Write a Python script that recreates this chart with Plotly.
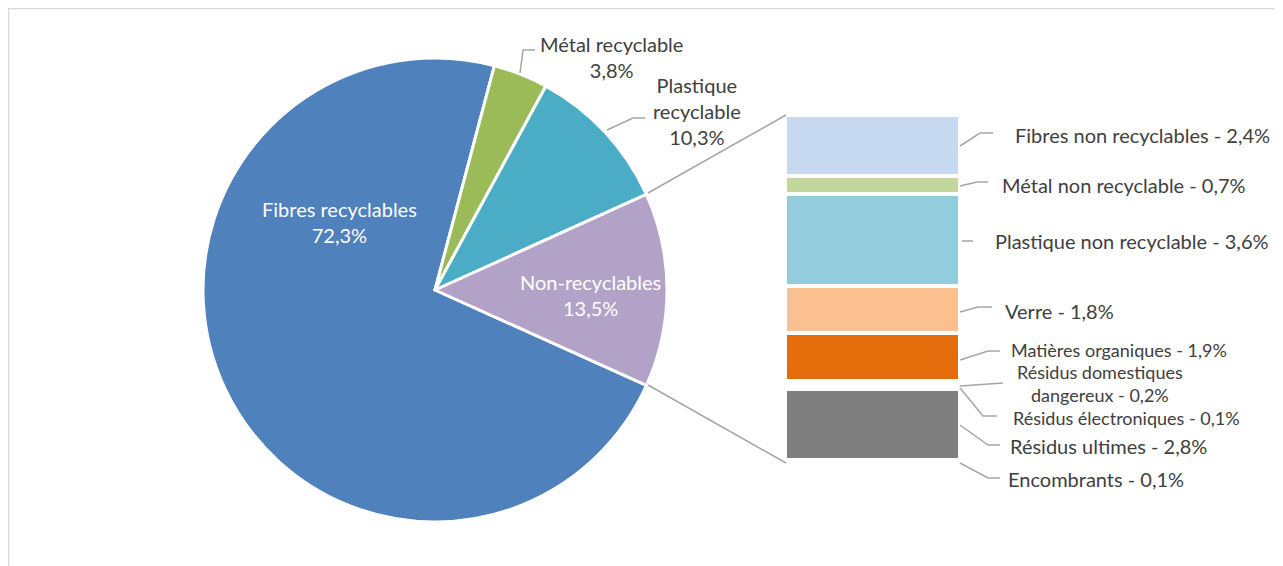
import plotly.graph_objects as go

# ---------------- data ----------------
pie_labels = ["Fibres recyclables", "Métal recyclable", "Plastique recyclable", "Non-recyclables"]
pie_values = [72.3, 3.8, 10.3, 13.5]
pie_colors = ["#4F81BD", "#9BBB59", "#4BACC6", "#B2A2C7"]

bar_labels = ["Fibres non recyclables", "Métal non recyclable", "Plastique non recyclable",
              "Verre", "Matières organiques", "Résidus domestiques dangereux",
              "Résidus électroniques", "Résidus ultimes", "Encombrants"]
bar_values = [2.4, 0.7, 3.6, 1.8, 1.9, 0.2, 0.1, 2.8, 0.1]
bar_colors = ["#C6D9F1", "#C3D69B", "#93CDDD", "#FAC090", "#E46C0A",
              "#FFFFFF", "#FFFFFF", "#7F7F7F", "#FFFFFF"]

W, H = 1283, 566
OFF = 8  # page body margin
FONT = "Lato"
TXT = "#404040"
LINE = "#A6A6A6"
FS = 20
FS_TIGHT = 18


def px(x):
    return (x - OFF) / W


def py(y):
    return 1 - (y - OFF) / H


def pct(v):
    return f"{v:.1f}".replace(".", ",") + "%"


fig = go.Figure()

# pie
cx, cy, r = 435, 290, 232
fig.add_trace(go.Pie(
    labels=pie_labels, values=pie_values, sort=False, direction="clockwise",
    rotation=114.3, marker=dict(colors=pie_colors, line=dict(color="white", width=3)),
    textinfo="none", hoverinfo="label+percent", showlegend=False,
    domain=dict(x=[px(cx - r), px(cx + r)], y=[py(cy + r), py(cy - r)]),
))

# stacked bar (the breakdown of "Non-recyclables")
for lab, val, col in zip(bar_labels, bar_values, bar_colors):
    fig.add_trace(go.Bar(
        x=["Non-recyclables"], y=[val], name=lab, marker=dict(color=col, line=dict(color="white", width=4)),
        showlegend=False, width=1, hovertemplate=lab + ": %{y}%<extra></extra>",
    ))

total = sum(bar_values)
fig.update_layout(
    width=W, height=H, margin=dict(l=0, r=0, t=0, b=0),
    paper_bgcolor="white", plot_bgcolor="rgba(0,0,0,0)",
    barmode="stack", bargap=0,
    xaxis=dict(domain=[px(785), px(960)], range=[-0.5, 0.5], visible=False, fixedrange=True),
    yaxis=dict(domain=[py(463), py(115)], range=[total, 0], visible=False, fixedrange=True),
    font=dict(family=FONT, color=TXT, size=FS),
)

ann = []


def add_text(x, y, text, color=TXT, xanchor="center", size=FS):
    ann.append(dict(x=px(x), y=py(y), xref="paper", yref="paper", text=text, showarrow=False,
                    xanchor=xanchor, yanchor="middle", font=dict(family=FONT, size=size, color=color)))


# pie labels
add_text(339, 222, pie_labels[0] + "<br>" + pct(pie_values[0]), color="white")
add_text(590, 295, pie_labels[3] + "<br>" + pct(pie_values[3]), color="white")
add_text(611, 57, pie_labels[1] + "<br>" + pct(pie_values[1]))
add_text(697, 111, "Plastique<br>recyclable<br>" + pct(pie_values[2]))

# bar labels (x, y, font size)
bar_pos = [(1013, 135, FS), (1000, 185, FS), (993, 241, FS), (1003, 311, FS), (1009, 350, FS_TIGHT),
           None, (1011, 418, FS_TIGHT), (1008, 446, FS), (1006, 479, FS)]
for i, (lab, val) in enumerate(zip(bar_labels, bar_values)):
    if bar_pos[i] is None:
        continue
    x, y, s = bar_pos[i]
    add_text(x, y, f"{lab} - {pct(val)}", xanchor="left", size=s)
# two-line label for the domestic hazardous waste
add_text(1100, 372, "Résidus domestiques", size=FS_TIGHT)
add_text(1100, 395, "dangereux - " + pct(bar_values[5]), size=FS_TIGHT)

fig.update_layout(annotations=ann)

# leader lines and connector lines
paths = [
    [(520, 73), (523, 50), (535, 50)],
    [(607, 130), (633, 118), (645, 118)],
    [(960, 146), (980, 133), (993, 133)],
    [(960, 186), (977, 182), (988, 182)],
    [(962, 241), (973, 241)],
    [(960, 312), (978, 307), (992, 307)],
    [(960, 360), (988, 351), (1000, 351)],
    [(960, 386), (1003, 383)],
    [(960, 388), (983, 416), (997, 416)],
    [(960, 425), (988, 445), (1000, 445)],
    [(960, 463), (988, 478), (1000, 478)],
    [(648, 193), (786, 115)],
    [(648, 385), (786, 463)],
]
shapes = []
for p in paths:
    d = "M " + " L ".join(f"{px(x)},{py(y)}" for x, y in p)
    shapes.append(dict(type="path", xref="paper", yref="paper", path=d,
                       line=dict(color=LINE, width=1.5)))
# chart area border
shapes.append(dict(type="rect", xref="paper", yref="paper", x0=px(8.5), y0=py(580), x1=px(1290), y1=py(8.5),
                   line=dict(color="#D9D9D9", width=1.5), layer="below"))
fig.update_layout(shapes=shapes)

fig.write_html("out.html")
